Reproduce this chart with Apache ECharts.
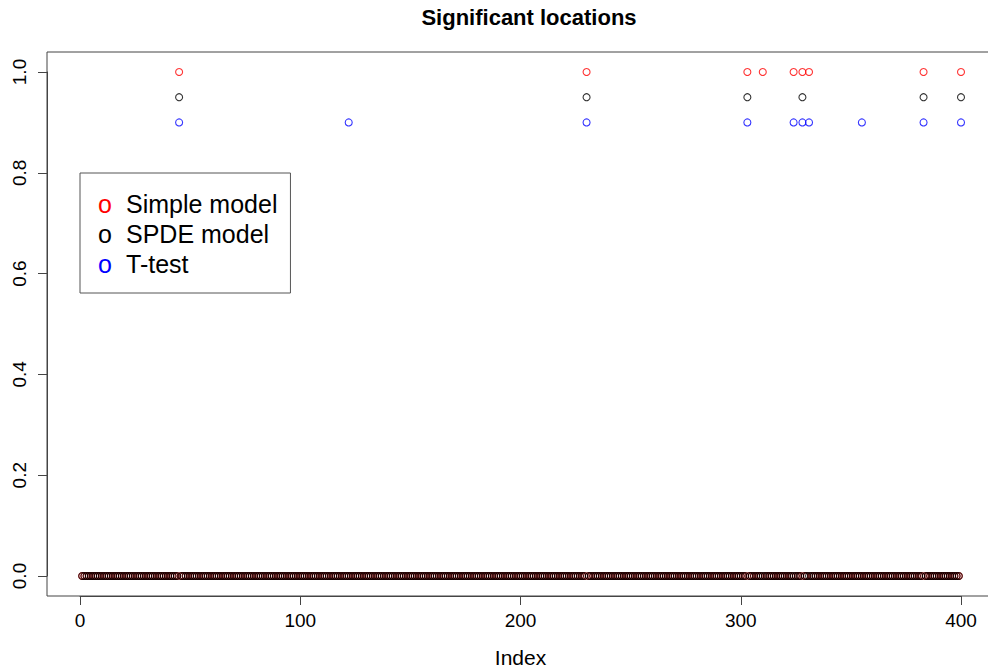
<!DOCTYPE html>
<html>
<head>
<meta charset="utf-8">
<script src="https://cdn.jsdelivr.net/npm/echarts@6/dist/echarts.min.js"></script>
<style>
  html, body { margin: 0; padding: 0; background: #fff; }
  #chart { width: 988px; height: 668px; }
</style>
</head>
<body>
<div id="chart"></div>
<script>
// number of locations along the index axis
const nLocations = 400;
// indices flagged as significant by each method
const simpleIdx = [45, 230, 303, 310, 324, 328, 331, 383, 400];
const spdeIdx = [45, 230, 303, 328, 383, 400];
const ttestIdx = [45, 122, 230, 303, 324, 328, 331, 355, 383, 400];
// height at which each method's significant points are drawn
const simpleTop = 1.0;
const spdeTop = 0.95;
const ttestTop = 0.9;
const xTicks = [0, 100, 200, 300, 400];
const yTicks = [0, 0.2, 0.4, 0.6, 0.8, 1.0];

// simple and spde: value for every index (0 when not significant)
function fullSeries(idx, top) {
  const out = [];
  for (let i = 1; i <= nLocations; i++) {
    out.push([i, idx.indexOf(i) >= 0 ? top : 0]);
  }
  return out;
}
// t-test only shows its significant points
function onlySig(idx, top) {
  return idx.map(i => [i, top]);
}

const fontFam = '"Liberation Sans", Arial, sans-serif';

function circles(name, color, data) {
  return {
    name: name,
    type: 'scatter',
    xAxisIndex: 0,
    yAxisIndex: 0,
    symbol: 'circle',
    symbolSize: 7,
    silent: true,
    itemStyle: { color: 'rgba(0,0,0,0)', borderColor: color, borderWidth: 1.1 },
    emphasis: { disabled: true },
    data: data
  };
}

const chart = echarts.init(document.getElementById('chart'), null, { renderer: 'svg' });

const option = {
  animation: false,
  backgroundColor: '#fff',
  title: {
    text: 'Significant locations',
    left: 524,
    top: 1,
    textAlign: 'center',
    textStyle: { fontFamily: fontFam, fontWeight: 'bold', fontSize: 22, color: '#000' }
  },
  legend: {
    orient: 'vertical',
    left: 80,
    top: 173,
    padding: [18, 13, 17, 12],
    itemGap: 5,
    itemWidth: 0,
    itemHeight: 0,
    borderColor: '#555',
    borderWidth: 1,
    selectedMode: false,
    data: ['Simple model', 'SPDE model', 'T-test'],
    formatter: function (name) {
      const key = name === 'Simple model' ? 'r' : (name === 'SPDE model' ? 'k' : 'b');
      return '{' + key + '|o}' + name;
    },
    textStyle: {
      fontFamily: fontFam,
      fontSize: 25,
      lineHeight: 25,
      color: '#000',
      rich: {
        r: { color: '#ff0000', fontSize: 25, lineHeight: 25, width: 28, fontFamily: fontFam },
        k: { color: '#000000', fontSize: 25, lineHeight: 25, width: 28, fontFamily: fontFam },
        b: { color: '#0000ff', fontSize: 25, lineHeight: 25, width: 28, fontFamily: fontFam }
      }
    }
  },
  grid: [
    // data area, exactly 0..400 / 0..1
    { left: 80, right: 27, top: 72, bottom: 92, outerBoundsMode: 'none', containLabel: false },
    // plot box
    { left: 47, right: -8, top: 52, bottom: 72, outerBoundsMode: 'none', containLabel: false,
      show: true, borderColor: '#444', borderWidth: 1, backgroundColor: 'transparent' }
  ],
  xAxis: [
    {
      gridIndex: 0,
      type: 'value',
      min: 0,
      max: 400,
      interval: 100,
      offset: 20,
      position: 'bottom',
      name: 'Index',
      nameLocation: 'middle',
      nameGap: 51,
      nameTextStyle: { fontFamily: fontFam, fontSize: 21, color: '#000' },
      axisLine: { show: true, onZero: false, lineStyle: { color: '#444', width: 1 } },
      axisTick: { show: true, length: 9, lineStyle: { color: '#444' } },
      axisLabel: { fontFamily: fontFam, fontSize: 19, color: '#000', margin: 15 },
      splitLine: { show: false }
    },
    { gridIndex: 1, type: 'value', show: false, min: 0, max: 1 }
  ],
  yAxis: [
    {
      gridIndex: 0,
      type: 'value',
      min: 0,
      max: 1,
      interval: 0.2,
      offset: 33,
      position: 'left',
      axisLine: { show: true, onZero: false, lineStyle: { color: '#444', width: 1 } },
      axisTick: { show: true, length: 9, lineStyle: { color: '#444' } },
      axisLabel: {
        fontFamily: fontFam, fontSize: 19, color: '#000', rotate: 90, margin: 18,
        formatter: v => v.toFixed(1)
      },
      splitLine: { show: false }
    },
    { gridIndex: 1, type: 'value', show: false, min: 0, max: 1 }
  ],
  series: [
    circles('Simple model', '#ff0000', fullSeries(simpleIdx, simpleTop)),
    circles('SPDE model', '#000000', fullSeries(spdeIdx, spdeTop)),
    circles('T-test', '#0000ff', onlySig(ttestIdx, ttestTop))
  ]
};

chart.setOption(option);
</script>
</body>
</html>
